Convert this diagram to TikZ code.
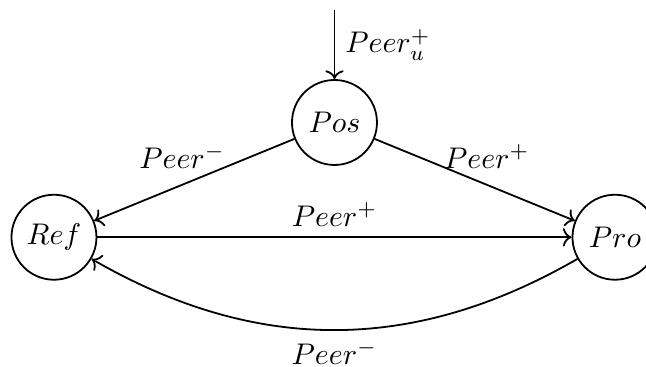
\documentclass[tikz,border=0pt]{standalone}
\usepackage{amsmath}
\usetikzlibrary{arrows.meta, positioning}

\begin{document}
\begin{tikzpicture}[
  phase/.style={draw, circle, minimum size=1cm, inner sep=1pt, semithick},
  arrow/.style={->, semithick}
]
\useasboundingbox (-3.935,-2.876) rectangle (3.665,1.441);

\node[phase] (pos) at (0,0) {$Pos$};
\node[phase] (ref) at (-3.3,-1.35) {$Ref$};
\node[phase] (pro) at (3.3,-1.35) {$Pro$};
\coordinate (entry) at (0,1.32);

\draw[arrow] (entry) -- node[right] {$Peer_u^+$} (pos);
\draw[arrow] (pos) -- node[above=0.6mm, pos=0.56] {$Peer^-$} (ref);
\draw[arrow] (pos) -- node[above=0.6mm, pos=0.56] {$Peer^+$} (pro);
\draw[arrow] (ref) -- node[above] {$Peer^+$} (pro);
\draw[arrow] (pro) to[bend left=30] node[below] {$Peer^-$} (ref);
\end{tikzpicture}
\end{document}
